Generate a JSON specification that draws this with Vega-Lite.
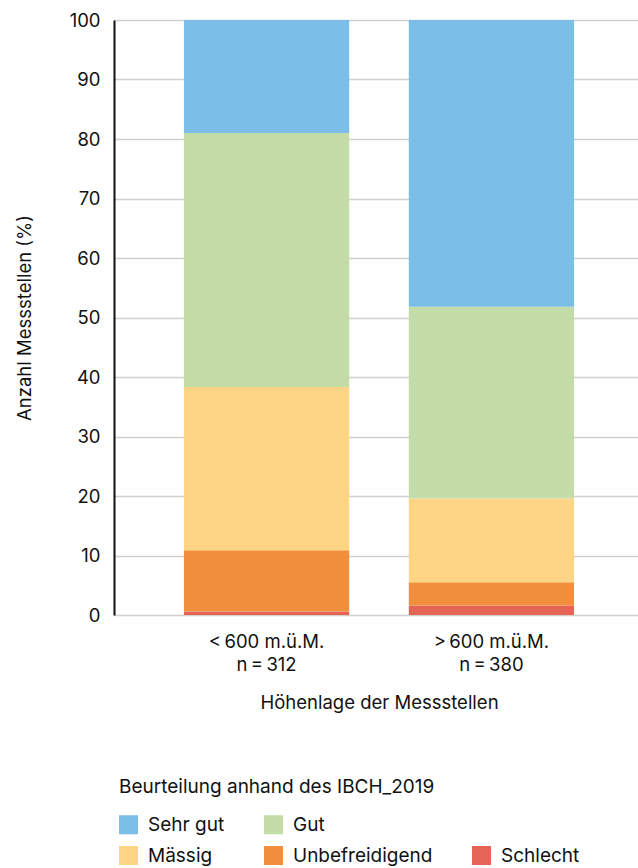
{
  "$schema": "https://vega.github.io/schema/vega-lite/v6.json",
  "autosize": "none",
  "width": 530,
  "height": 595,
  "padding": {"left": 114, "top": 20, "right": 0, "bottom": 253},
  "config": {
    "font": "Inter",
    "view": {"stroke": null},
    "axis": {"labelFont": "Inter", "titleFont": "Inter", "labelFontSize": 18.5, "titleFontSize": 18.5, "labelColor": "#111", "titleColor": "#111", "titleFontWeight": "normal"},
    "legend": {"labelFont": "Inter", "titleFont": "Inter"}
  },
  "data": {
    "values": [
      {"hoehe": "<\u2009600 m.ü.M.|n\u2009=\u2009312", "klasse": "Schlecht", "order": 1, "wert": 0.6},
      {"hoehe": "<\u2009600 m.ü.M.|n\u2009=\u2009312", "klasse": "Unbefreidigend", "order": 2, "wert": 10.3},
      {"hoehe": "<\u2009600 m.ü.M.|n\u2009=\u2009312", "klasse": "Mässig", "order": 3, "wert": 27.4},
      {"hoehe": "<\u2009600 m.ü.M.|n\u2009=\u2009312", "klasse": "Gut", "order": 4, "wert": 42.7},
      {"hoehe": "<\u2009600 m.ü.M.|n\u2009=\u2009312", "klasse": "Sehr gut", "order": 5, "wert": 19.0},
      {"hoehe": ">\u2009600 m.ü.M.|n\u2009=\u2009380", "klasse": "Schlecht", "order": 1, "wert": 1.6},
      {"hoehe": ">\u2009600 m.ü.M.|n\u2009=\u2009380", "klasse": "Unbefreidigend", "order": 2, "wert": 3.9},
      {"hoehe": ">\u2009600 m.ü.M.|n\u2009=\u2009380", "klasse": "Mässig", "order": 3, "wert": 14.1},
      {"hoehe": ">\u2009600 m.ü.M.|n\u2009=\u2009380", "klasse": "Gut", "order": 4, "wert": 32.2},
      {"hoehe": ">\u2009600 m.ü.M.|n\u2009=\u2009380", "klasse": "Sehr gut", "order": 5, "wert": 48.2}
    ]
  },
  "mark": {"type": "bar"},
  "encoding": {
    "x": {
      "field": "hoehe", "type": "nominal", "sort": null,
      "scale": {"paddingInner": 0.265, "paddingOuter": 0.311},
      "axis": {
        "title": "Höhenlage der Messstellen",
        "labelAngle": 0,
        "labelExpr": "split(datum.value, '|')",
        "labelLineHeight": 23,
        "labelPadding": 17,
        "ticks": false,
        "domain": false,
        "titlePadding": 20
      }
    },
    "y": {
      "field": "wert", "type": "quantitative", "stack": "zero",
      "scale": {"domain": [0, 100]},
      "axis": {
        "title": "Anzahl Messstellen (%)",
        "values": [0, 10, 20, 30, 40, 50, 60, 70, 80, 90, 100],
        "ticks": false,
        "domainColor": "#111",
        "domainWidth": 2,
        "gridColor": "#d3cfcb",
        "gridWidth": 1.5,
        "labelPadding": 14,
        "titlePadding": 35
      }
    },
    "color": {
      "field": "klasse", "type": "nominal",
      "scale": {
        "domain": ["Sehr gut", "Gut", " ", "Mässig", "Unbefreidigend", "Schlecht"],
        "range": ["#7bbee8", "#c4dca8", "#ffffff", "#fed584", "#f18f3f", "#e46456"]
      },
      "legend": {
        "title": "Beurteilung anhand des IBCH_2019",
        "titleLimit": 500,
        "orient": "none",
        "legendX": 5,
        "legendY": 758,
        "direction": "horizontal",
        "columns": 3,
        "columnPadding": 39,
        "rowPadding": 11,
        "symbolType": "square",
        "symbolSize": 361,
        "symbolStrokeWidth": 0,
        "symbolOpacity": 1,
        "labelFontSize": 19,
        "labelColor": "#111",
        "labelOffset": 10,
        "labelLimit": 300,
        "titleFontSize": 19,
        "titleFontWeight": "normal",
        "titleColor": "#111",
        "titlePadding": 18
      }
    },
    "order": {"field": "order", "type": "quantitative"}
  }
}
